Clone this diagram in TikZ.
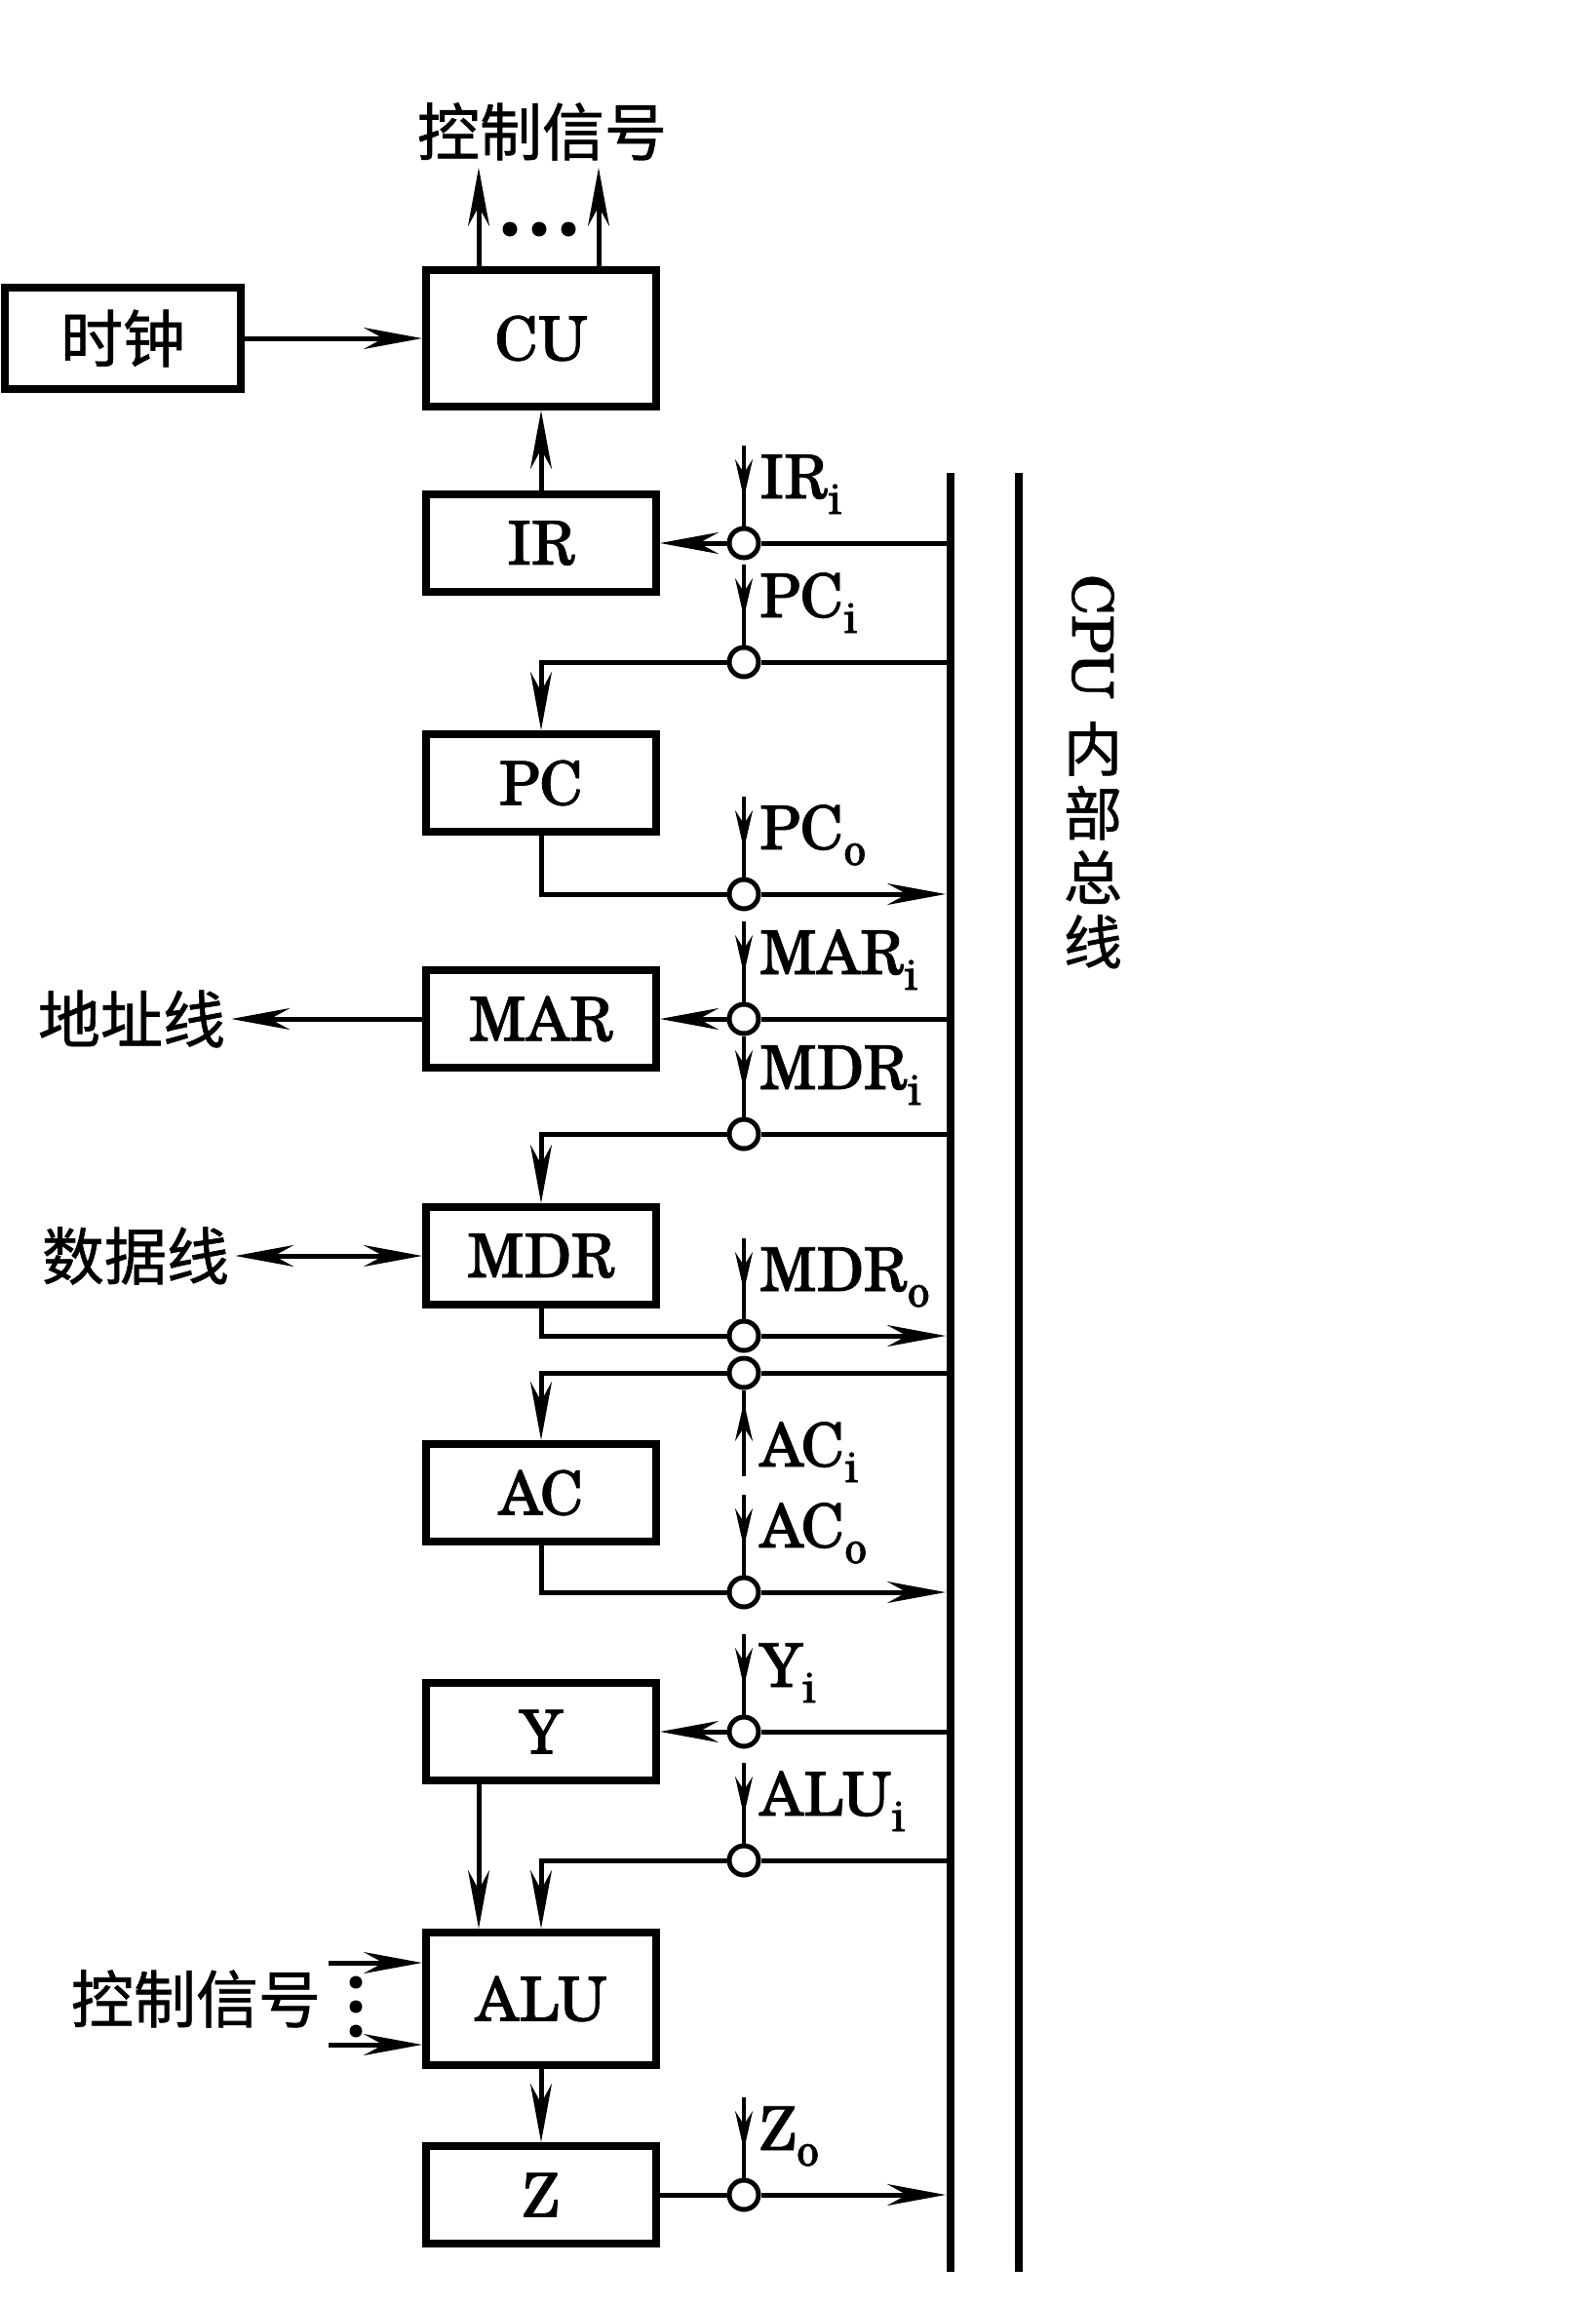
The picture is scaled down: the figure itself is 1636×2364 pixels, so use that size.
\documentclass[tikz,border=0pt]{standalone}
\usepackage{fontspec}
\setmainfont{texgyreschola}[Extension=.otf, UprightFont=*-regular, BoldFont=*-bold, ItalicFont=*-italic, BoldItalicFont=*-bolditalic, FakeBold=1.2]
\newfontfamily\cjkfont{Noto Sans CJK SC}[FakeBold=1.0]
\usetikzlibrary{arrows.meta}
\newcommand\bxf{\fontsize{62}{64}\selectfont}
\newcommand\cjkf{\fontsize{64}{70}\selectfont\cjkfont}
\newcommand\sbs[1]{\raisebox{-16pt}{\fontsize{46}{46}\selectfont #1}}
\newcommand\ctlsig[2]{%
  \coordinate (#1t) at ([yshift=100pt]#1.center);
  \coordinate (#1m) at ([yshift=46pt]#1.center);
  \draw[cline] (#1t) -- (#1.north);
  \draw[carr] (#1t) -- (#1m);
  \node[lab] (#1l) at ([xshift=16pt,yshift=46pt]#1.center) {#2};
}
\begin{document}
\begin{tikzpicture}[x=1pt,y=-1pt,
  box/.style={draw, line width=8pt, minimum width=236pt, minimum height=100pt, inner sep=0pt, font=\bxf},
  conn/.style={line width=5pt},
  arr/.style={conn, -{Stealth[length=60pt,width=22pt,inset=20pt]}},
  dbl/.style={conn, {Stealth[length=60pt,width=22pt,inset=20pt]}-{Stealth[length=60pt,width=22pt,inset=20pt]}},
  cline/.style={line width=3.5pt},
  carr/.style={line width=3.5pt, -{Stealth[length=40pt,width=18pt,inset=14pt]}},
  jn/.style={circle, draw, fill=white, line width=5pt, minimum size=30pt, inner sep=0pt},
  bus/.style={line width=8pt},
  lab/.style={anchor=base west, font=\bxf, inner sep=0pt},
  cjk/.style={font=\cjkf, inner sep=6pt}
]
\useasboundingbox[fill=white] (0,0) rectangle (1636,2364);

% internal bus
\coordinate (b1t) at (975,485); \coordinate (b1b) at (975,2330);
\coordinate (b2t) at (1045,485); \coordinate (b2b) at (1045,2330);
\draw[bus] (b1t) -- (b1b);
\draw[bus] (b2t) -- (b2b);
\node[rotate=-90, anchor=west, inner sep=0pt, font=\fontsize{58}{60}\selectfont] (cpu) at (1121,589) {CPU};
\node[anchor=north, align=center, inner sep=0pt, font=\fontsize{60}{66}\selectfont\cjkfont] (nbzx) at (1121,740) {内\\部\\总\\线};

% boxes
\node[box, minimum width=242pt, minimum height=104pt, font=\cjkf] (clk) at (126,347) {时钟};
\node[box, minimum height=140pt] (CU) at (555,347) {CU};
\node[box] (IR) at (555,557) {IR};
\node[box] (PC) at (555,803) {PC};
\node[box] (MAR) at (555,1045) {MAR};
\node[box] (MDR) at (555,1288) {MDR};
\node[box] (AC) at (555,1531) {AC};
\node[box] (Y) at (555,1776) {Y};
\node[box, minimum height=136pt] (ALU) at (555,2050) {ALU};
\node[box] (Z) at (555,2251) {Z};

% outside texts
\node[cjk] (ctl1) at (556,135) {控制信号};
\node[cjk] (addr) at (135,1045) {地址线};
\node[cjk] (data) at (139,1288) {数据线};
\node[cjk] (ctl2) at (201,2050) {控制信号};

% junctions
\node[jn] (jIRi) at (763,557) {};
\node[jn] (jPCi) at (763,679) {};
\node[jn] (jPCo) at (763,917) {};
\node[jn] (jMARi) at (763,1045) {};
\node[jn] (jMDRi) at (763,1163) {};
\node[jn] (jMDRo) at (763,1370) {};
\node[jn] (jACi) at (763,1408) {};
\node[jn] (jACo) at (763,1633) {};
\node[jn] (jYi) at (763,1776) {};
\node[jn] (jALUi) at (763,1908) {};
\node[jn] (jZo) at (763,2251) {};

% bus points
\coordinate (bIRi) at (975,557);
\coordinate (bPCi) at (975,679);
\coordinate (bPCo) at (970,917);
\coordinate (bMARi) at (975,1045);
\coordinate (bMDRi) at (975,1163);
\coordinate (bMDRo) at (970,1370);
\coordinate (bACi) at (975,1408);
\coordinate (bACo) at (970,1633);
\coordinate (bYi) at (975,1776);
\coordinate (bALUi) at (975,1908);
\coordinate (bZo) at (970,2251);

% top of CU
\coordinate (ta) at (491,172); \coordinate (tb) at (614,172);
\draw[arr] (CU.north -| ta) -- (ta);
\draw[arr] (CU.north -| tb) -- (tb);
\fill (523,235) circle (7.5pt) (553,235) circle (7.5pt) (583,235) circle (7.5pt);
\draw[arr] (clk) -- (CU);
\draw[arr] (IR) -- (CU);

% connections
\draw[conn] (bIRi) -- (jIRi); \draw[arr] (jIRi) -- (IR);
\draw[conn] (bPCi) -- (jPCi); \draw[arr] (jPCi.west) -| (PC.north);
\draw[conn] (PC.south) |- (jPCo.west); \draw[arr] (jPCo) -- (bPCo);
\draw[conn] (bMARi) -- (jMARi); \draw[arr] (jMARi) -- (MAR);
\draw[arr] (MAR) -- (addr);
\draw[conn] (bMDRi) -- (jMDRi); \draw[arr] (jMDRi.west) -| (MDR.north);
\draw[dbl] (data) -- (MDR);
\draw[conn] (MDR.south) |- (jMDRo.west); \draw[arr] (jMDRo) -- (bMDRo);
\draw[conn] (bACi) -- (jACi); \draw[arr] (jACi.west) -| (AC.north);
\draw[conn] (AC.south) |- (jACo.west); \draw[arr] (jACo) -- (bACo);
\draw[conn] (bYi) -- (jYi); \draw[arr] (jYi) -- (Y);
\draw[conn] (bALUi) -- (jALUi); \draw[arr] (jALUi.west) -| (ALU.north);
\coordinate (yx) at (491,0);
\draw[arr] (Y.south -| yx) -- (ALU.north -| yx);
\draw[arr] (ALU) -- (Z);
\draw[conn] (Z) -- (jZo); \draw[arr] (jZo) -- (bZo);

% ALU control signals
\coordinate (ca) at (337,2013); \coordinate (cb) at (337,2097);
\draw[arr] (ca) -- (ca -| ALU.west);
\draw[arr] (cb) -- (cb -| ALU.west);
\fill (365,2033) circle (6.5pt) (365,2058) circle (6.5pt) (365,2083) circle (6.5pt);

% control lines and labels
\ctlsig{jIRi}{IR\sbs{i}}
\ctlsig{jPCi}{PC\sbs{i}}
\ctlsig{jPCo}{PC\sbs{o}}
\ctlsig{jMARi}{MAR\sbs{i}}
\ctlsig{jMDRi}{MDR\sbs{i}}
\ctlsig{jMDRo}{MDR\sbs{o}}
\ctlsig{jACo}{AC\sbs{o}}
\ctlsig{jYi}{Y\sbs{i}}
\ctlsig{jALUi}{ALU\sbs{i}}
\ctlsig{jZo}{Z\sbs{o}}
\coordinate (jACib) at ([yshift=-106pt]jACi.center);
\coordinate (jACim) at ([yshift=-30pt]jACi.center);
\draw[cline] (jACib) -- (jACi.south);
\draw[carr] (jACib) -- (jACim);
\node[lab] (jACil) at ([xshift=16pt,yshift=-96pt]jACi.center) {AC\sbs{i}};
\end{tikzpicture}
\end{document}
